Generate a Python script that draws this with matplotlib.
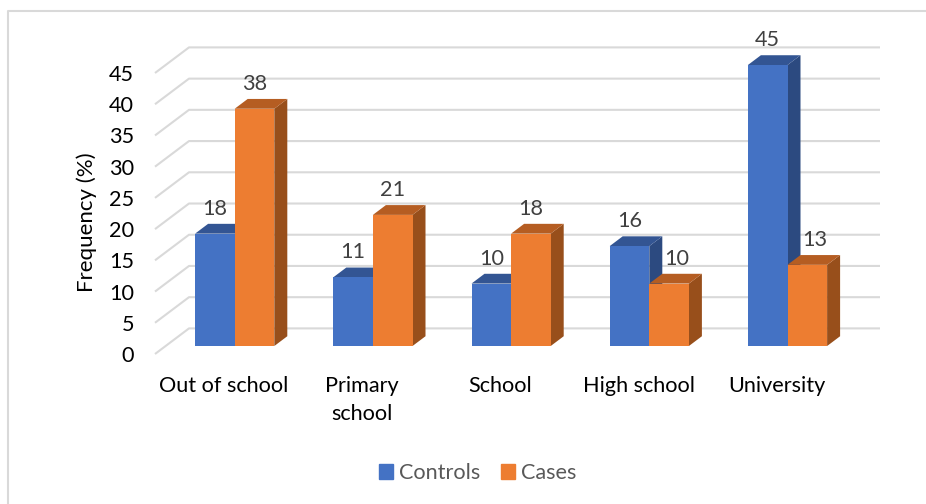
import matplotlib
matplotlib.use("Agg")
import matplotlib.pyplot as plt
from matplotlib.lines import Line2D
from matplotlib.patches import Patch

W, H = 926, 504
categories = ["Out of school", "Primary\nschool", "School", "High school", "University"]
controls = [18, 11, 10, 16, 45]
cases = [38, 21, 18, 10, 13]
y_ticks = [0, 5, 10, 15, 20, 25, 30, 35, 40, 45]

# (front, top, side) shades for each series
BLUE = ("#4472C4", "#335593", "#2C4A80")
ORANGE = ("#ED7D31", "#B55D22", "#984F1B")
TEXT = "#404040"

plt.rcParams["font.family"] = ["Lato", "DejaVu Sans"]

fig = plt.figure(figsize=(W / 100, H / 100), dpi=100)
ax = fig.add_axes([155 / W, 1 - 354 / H, 691 / W, 281 / H])
ax.set_xlim(-0.5, 4.5)
ax.set_ylim(0, 45)

# pixels to data units, the depth of the fake 3d is given in pixels
ux = 5 / 691
uy = 45 / 281


def slant(px):
    return px * ux, px * 25.6 / 34 * uy


# walls
back_x, back_y = slant(34)
for v in y_ticks:
    ax.plot([-0.5, -0.5 + back_x, 4.5 + back_x], [v, v + back_y, v + back_y],
            color="#D9D9D9", lw=1.5, clip_on=False, zorder=1, solid_capstyle="butt")


def draw_bar(left, value, shades, zorder):
    front, top, side = shades
    w = 39.6 * ux
    off_x, off_y = slant(10.6)
    d_x, d_y = slant(13)
    x0 = left + off_x
    x1 = x0 + w
    y0 = off_y
    y1 = off_y + value
    ax.fill([x1, x1 + d_x, x1 + d_x, x1], [y0, y0 + d_y, y1 + d_y, y1], color=side, lw=0, zorder=zorder, clip_on=False)
    ax.fill([x0, x0 + d_x, x1 + d_x, x1], [y1, y1 + d_y, y1 + d_y, y1], color=top, lw=0, zorder=zorder, clip_on=False)
    ax.fill([x0, x1, x1, x0], [y0, y0, y1, y1], color=front, lw=0, zorder=zorder + 0.1, clip_on=False)
    return x0 + w / 2, y1


# pixel nudges for labels that would sit on a neighbouring bar
label_shift = {(1, 3): 8, (1, 4): 7}
bar_w = 39.6 * ux
for i in range(len(categories)):
    for s, (vals, shades) in enumerate([(controls, BLUE), (cases, ORANGE)]):
        cx, top_y = draw_bar(i + (s - 1) * bar_w, vals[i], shades, 2 + s + i * 0.01)
        ax.annotate(str(vals[i]), (cx, top_y), xytext=(label_shift.get((s, i), 0) * 0.72, 25 * 0.72),
                    textcoords="offset points", ha="center", va="center",
                    fontsize=15.6, color=TEXT, zorder=6, annotation_clip=False)

ax.set_xticks(range(len(categories)))
ax.set_xticklabels(categories, fontsize=15.6, color="#000000", linespacing=1.55)
ax.set_yticks(y_ticks)
ax.set_yticklabels([str(v) for v in y_ticks], fontsize=15.6, color="#000000")
ax.tick_params(axis="x", length=0, pad=15.5)
ax.tick_params(axis="y", length=0, pad=15)
for sp in ax.spines.values():
    sp.set_visible(False)
ax.patch.set_alpha(0)

ax.set_ylabel("Frequency (%)", fontsize=16, color="#000000")
ax.yaxis.set_label_coords((97 - 155) / 691, (354 - 222) / 281)

handles = [Patch(color=BLUE[0], label="Controls"), Patch(color=ORANGE[0], label="Cases")]
fig.legend(handles=handles, loc="center", bbox_to_anchor=(477.5 / W, 1 - 473 / H), ncol=2, frameon=False,
           fontsize=15.6, labelcolor="#595959", handlelength=0.65, handleheight=0.65, handletextpad=0.28,
           columnspacing=0.95, borderpad=0, borderaxespad=0)

# chart frame, only top and left are visible
fig.add_artist(Line2D([8 / W, 8 / W, 1], [0, 1 - 11 / H, 1 - 11 / H], color="#D9D9D9", lw=1.5))

fig.savefig("out.png", dpi=100)
